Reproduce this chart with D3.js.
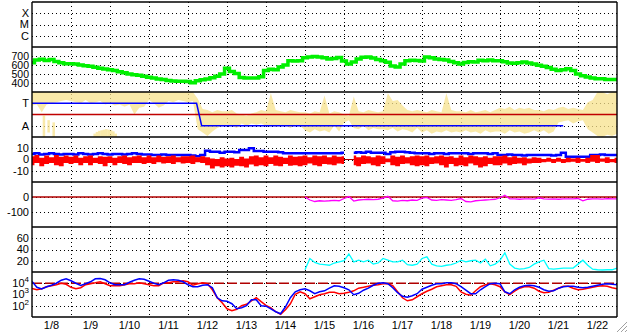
<!DOCTYPE html>
<html><head><meta charset="utf-8">
<script src="https://cdn.jsdelivr.net/npm/d3@7"></script>
<style>
body{margin:0;background:#fff;}
text{font-family:"Liberation Sans",Arial,Helvetica,sans-serif;font-size:11px;fill:#000;}
</style>
</head><body>
<svg id="c" width="628" height="334"></svg>
<script>
// ---------------- data ----------------
const dayLabels = ["1/8","1/9","1/10","1/11","1/12","1/13","1/14","1/15","1/16","1/17","1/18","1/19","1/20","1/21","1/22"];
const stepHours = 3;            // sampling step of the series below
const laterStartDay = 7;        // magenta & cyan series start on 1/15

const catLabels = ["X","M","C"];
const greenTicks = [400,500,600,700];
const modeTicks = [{v:2,label:"T"},{v:0,label:"A"}];
const p4Ticks = [10,0,-10];
const p5Ticks = [0,-100];
const p6Ticks = [20,40,60];
const logTicks = [{v:1e4,e:"4"},{v:1e3,e:"3"},{v:1e2,e:"2"}];

const green = [
 625,655,665,650,660,640,625,615,
 615,610,600,592,585,575,565,555,
 548,540,525,515,500,492,485,475,
 465,455,445,438,428,422,420,420,
 418,402,425,435,445,458,475,500,
 565,528,505,462,455,455,456,470,
 540,552,548,578,600,648,645,648,
 680,690,695,688,680,666,672,682,
 645,612,632,668,685,690,678,660,
 648,630,590,578,610,648,652,650,
 645,688,680,668,660,655,640,625,
 612,628,637,632,652,648,656,648,
 648,635,622,620,626,632,622,610,
 598,585,572,552,540,548,558,540,
 500,480,468,456,448,448,440,440,438];

const yellowLo = [
 1.8,1.9,1.2,1.9,2.0,2.1,2.2,2.3,
 2.2,2.1,2.0,2.3,2.0,2.1,2.2,1.9,
 2.0,1.8,1.9,1.7,1.9,1.0,1.6,1.7,
 2.3,2.0,1.6,1.8,2.2,2.1,2.3,2.2,
 2.1,2.2,-0.3,-0.6,-0.9,-0.5,-0.2,0.0,
 0.1,0.0,-0.2,0.2,0.0,0.2,0.1,0.2,
 0.0,0.1,-0.1,0.1,0.0,-0.2,0.1,0.0,
 -0.4,-0.6,-0.3,-0.5,-0.4,-0.6,0.0,-0.5,
 0.3,0.5,-0.2,-0.3,0.0,-0.4,-0.2,-0.3,
 -0.3,-0.4,-0.2,-0.5,-0.3,-0.4,-0.6,-0.2,
 -0.6,-0.4,-0.7,-0.5,-0.6,-0.4,-0.6,-0.5,
 -0.6,-0.4,-0.6,-0.5,-0.7,-0.4,-0.6,-0.5,
 -0.5,-0.7,-0.4,-0.6,-0.5,-0.7,-0.6,-0.4,
 -0.6,-0.4,-0.7,-0.5,0.3,0.4,0.5,0.2,
 0.4,0.5,-0.3,-0.6,-0.9,-1.0,-0.8,-0.9,-0.7];
const yellowHi = [
 3,3,3,3,3,3,3,3,
 3,3,3,3,3,3,3,3,
 3,3,3,3,3,3,3,3,
 3,3,3,3,3,3,3,3,
 3,3,2.4,1.5,1.4,1.2,1.4,1.3,
 1.3,1.4,1.1,1.0,0.9,1.1,1.2,1.4,
 1.3,2.9,1.4,1.3,1.2,1.4,1.3,1.2,
 1.2,1.1,1.3,1.2,2.7,1.1,1.3,1.2,
 1.0,0.9,2.6,1.3,1.2,1.4,1.3,1.2,
 1.3,2.9,2.2,2.3,1.8,1.4,1.3,1.4,
 1.3,1.2,1.4,1.3,1.2,2.9,1.4,1.3,
 1.3,1.2,1.4,1.2,1.3,1.4,1.2,1.4,
 1.6,1.5,1.7,1.4,1.6,1.5,1.6,1.4,
 1.4,1.3,1.5,1.4,1.6,1.7,1.5,1.6,
 1.5,1.4,2.1,2.3,3.0,3.0,2.8,3.0,3.0];
// isolated yellow streaks (day offset, low, high)
const yellowStreakDay = [0.30,0.42,0.55,1.60,1.66,1.72,1.78,1.84,1.90,1.96,2.02,2.08,2.14];
const yellowStreakLo  = [-1,-0.6,-1,-1,-1,-1,-1,-1,-1,-1,-1,-1,-1];
const yellowStreakHi  = [0.9,0.5,0.3,-0.7,-0.55,-0.45,-0.4,-0.35,-0.3,-0.35,-0.4,-0.5,-0.7];

const modeDay = [0,4.22,4.35,13.62];
const modeVal = [2,2,0,0];

const blue4 = [
 5,5.5,4.5,5,5.5,5,4.5,5,
 5,4.5,5.5,5,4.5,5,5.5,5,
 4.5,5,5,4.5,5,5.5,5,4.5,
 4.5,4,4,4.5,4,4,4,4,
 4,3.5,3,4,7.8,7,7,6,
 7,7,6.5,8.4,8.4,10,7.5,7.5,
 7,7,7,6.5,5.5,5.5,5.5,5.5,
 5.5,5.5,5.5,5.5,5.5,5.5,5.5,5.5,
 6,null,6,6.5,6,7,6,6,
 6,5,6.5,7,7,6.5,6,5.5,
 5.5,5.5,5,5.5,5.5,5,5.5,5.5,
 5.5,5.5,5,5.5,5.5,5.5,5,5.5,
 4,4,4.5,4,4,3.5,4,4,
 4,4,4,3.5,4,6,2.5,2.5,
 2.5,2.5,2.5,4,4,4.5,4,4,4];
const red4Lo = [
 -5,-3,-6,-4,-3,-5,-6,-3,
 -4,-3,-5,-3,-5,-3,-4,-6,
 -3,-5,-3,-4,-5,-3,-3,-4,
 -3,-4,-2.5,-3.5,-3,-4,-2.5,-3.5,
 -3,-4,-2.5,-3,-5,-8,-6,-7,
 -6,-7,-5.5,-6,-7,-4.5,-6,-5,
 -6,-4,-5.5,-6,-4,-5.5,-5,-6,
 -5,-3.5,-5,-6,-4,-4.5,-5,-3.5,
 -4,null,-5,-6,-4,-3.5,-5,-6,
 -4,-2.5,-5,-6,-4,-3.5,-5,-6,
 -5,-6,-4,-3.5,-5,-7,-4,-6,
 -5,-6,-3.5,-5,-7,-6,-4,-5,
 -5,-3.5,-5,-4,-3.5,-5,-3.5,-3,
 -3,-2.5,-2,-3,-2,-3,-2.5,-2,
 -3,-2,-3,-2,-3,-2,-3,-2.5,-3];
const red4Hi = [
 3,4,1.5,3.5,2,4,2.5,3.5,
 2.5,3.5,1.5,3,3.5,1.5,3,2.5,
 3,1.5,3,3.5,2,3,3.5,2,
 3.5,2,3.5,2.5,3,3.5,2,3,
 3,3.5,2,3,2,1,0.5,2,
 1,1.5,0.5,2.5,1,3,3.5,2,
 3.5,2,3.5,2.5,1.5,3.5,2.5,3,
 3.5,2,3.5,3,3.5,2,3.5,2.5,
 3,null,3.5,2,3.5,3,2,3.5,
 3,1,3.5,2.5,3.5,2,3,3.5,
 3,3.5,2,3,3.5,2.5,3,1.5,
 3.5,2,3.5,3,2,3,1.5,3,
 3,3.5,2,3,1.5,2,1,2,
 1.5,0.5,1.5,0.5,1.5,0.5,1.5,1,
 1.5,0.5,1.5,4,4,1,2,0.5,1.5];

const magenta = [
 0,-20,-30,-25,-27,-25,-22,-25,
 -10,3,-27,-20,-17,-15,-18,-15,
 -8,5,-25,-27,-22,-25,-20,-22,
 -8,-3,-20,-22,-18,-20,-22,-18,
 -10,-30,-33,-25,-22,-20,-18,-15,
 -5,12,-12,-13,-15,-13,-12,-14,
 -5,-12,-14,-13,-15,-12,-13,-12,
 -10,-25,-15,-13,-12,-14,-11,-13,-12];
const cyan = [
 4,24,17,14,13,12,16,18,
 20,32,18,21,18,21,14,16,
 24,21,18,18,21,13,12,14,
 24,27,14,11,10,12,13,16,
 21,18,20,21,16,23,11,14,
 21,34,14,7,5,6,8,14,
 18,21,6,5,6,7,7,7,
 14,21,12,5,4,3.6,4,4,7];

// log panel, stored as decimal exponents (value = 10^exponent)
const blueLogExp = [
 4.16,3.64,3.50,3.69,3.82,4.00,4.27,4.40,
 4.22,4.00,3.80,3.96,4.13,4.40,4.43,4.31,
 4.04,3.87,3.87,3.87,4.09,4.27,4.40,4.36,
 4.18,4.00,3.87,4.04,4.27,4.31,4.27,4.13,
 3.87,3.69,3.69,3.82,3.87,3.60,2.71,2.44,
 2.40,2.18,1.73,1.82,2.00,2.53,2.53,2.00,
 1.96,1.73,1.47,1.29,1.91,2.71,3.24,3.42,
 3.51,3.33,3.07,3.24,3.33,3.56,3.78,3.73,
 3.60,3.42,2.98,3.11,3.38,3.56,3.82,4.00,
 4.04,3.96,3.60,3.16,2.84,2.76,2.89,3.07,
 3.47,3.64,3.82,3.96,3.96,4.04,4.04,3.96,
 3.69,3.38,3.07,3.07,3.42,3.69,3.96,4.00,
 3.96,3.24,3.07,3.42,3.64,3.78,3.82,3.78,
 3.64,3.42,3.29,3.33,3.56,3.69,3.73,3.73,
 3.64,3.60,3.64,3.73,3.82,3.91,3.96,3.91,3.87];
const redLogExp = [
 3.54,3.42,3.51,3.69,3.78,3.87,4.00,3.91,
 3.64,3.51,3.60,3.87,3.96,4.04,4.13,3.96,
 3.78,3.78,3.78,3.87,3.96,3.96,4.04,3.96,
 3.87,3.78,3.78,4.04,4.04,4.13,4.13,4.22,
 4.13,3.82,3.96,4.04,3.96,3.42,2.71,2.27,
 1.73,1.56,1.69,2.00,2.13,2.44,2.71,2.36,
 2.04,1.82,1.47,1.24,1.64,2.18,3.02,3.24,
 3.07,2.62,2.80,2.98,3.07,3.20,3.20,3.07,
 3.11,3.20,3.33,3.56,3.64,3.73,3.82,3.87,
 3.96,3.96,3.78,3.24,2.71,2.44,2.53,2.80,
 3.07,3.29,3.47,3.69,3.78,3.87,3.87,3.73,
 3.24,3.02,2.93,3.33,3.69,3.87,3.96,3.87,
 3.69,3.24,2.98,3.29,3.56,3.69,3.69,3.56,
 3.29,3.16,3.20,3.38,3.56,3.73,3.73,3.56,
 3.42,3.47,3.56,3.64,3.73,3.78,3.73,3.60,3.51];

// ---------------- layout ----------------
const X0 = 32, X1 = 617;
const panelTop = [2,47,92,137,182,227,272];
const PH = 45;
const YB = panelTop[6] + PH;

const svg = d3.select("#c");
const t0 = Date.UTC(2000,0,8);
const dayDate = d => new Date(t0 + d*864e5);
const stepDate = (i, startDay=0) => new Date(t0 + (startDay*24 + i*stepHours)*3600e3);
const x = d3.scaleUtc().domain([dayDate(0), dayDate(dayLabels.length)]).range([X0, X1]);

const yCat = d3.scalePoint().domain(catLabels).range([panelTop[0], panelTop[0]+PH]).padding(1);
const yGreen = d3.scaleLinear().domain([300,800]).range([panelTop[1]+PH, panelTop[1]]);
const yMode = d3.scaleLinear().domain([-1,3]).range([panelTop[2]+PH, panelTop[2]]);
const y4 = d3.scaleLinear().domain([-20,20]).range([panelTop[3]+PH, panelTop[3]]);
const y5 = d3.scaleLinear().domain([-200,100]).range([panelTop[4]+PH, panelTop[4]]);
const y6 = d3.scaleLinear().domain([0,80]).range([panelTop[5]+PH, panelTop[5]]);
const y7 = d3.scaleLog().domain([10,1e5]).range([panelTop[6]+PH, panelTop[6]]);

const crisp = v => Math.round(v) + 0.5;
const defs = svg.append("defs");
panelTop.forEach((top,i) => {
  defs.append("clipPath").attr("id","clip"+i).append("rect")
    .attr("x",X0).attr("y",top).attr("width",X1-X0).attr("height",PH);
});

// ---------------- grid ----------------
const grid = svg.append("g").attr("stroke","#000").attr("stroke-width",1).attr("stroke-dasharray","1,3");
d3.range(1, dayLabels.length).forEach(d => {
  grid.append("line").attr("x1",crisp(x(dayDate(d)))).attr("x2",crisp(x(dayDate(d))))
    .attr("y1",panelTop[0]).attr("y2",YB);
});
function hgrid(yv){ grid.append("line").attr("x1",X0).attr("x2",X1).attr("y1",crisp(yv)).attr("y2",crisp(yv)); }
catLabels.forEach(c => hgrid(yCat(c)));
greenTicks.forEach(v => hgrid(yGreen(v)));
modeTicks.forEach(t => hgrid(yMode(t.v)));
p4Ticks.forEach(v => hgrid(y4(v)));
p5Ticks.forEach(v => hgrid(y5(v)));
p6Ticks.forEach(v => hgrid(y6(v)));
logTicks.forEach(t => hgrid(y7(t.v)));

// ---------------- data ----------------
const data = svg.append("g");
function pg(i){ return data.append("g").attr("clip-path","url(#clip"+i+")"); }

// panel 2: green
pg(1).append("path").datum(green)
  .attr("d", d3.line().curve(d3.curveStep).x((d,i)=>x(stepDate(i))).y(d=>yGreen(d)))
  .attr("fill","none").attr("stroke","#00f000").attr("stroke-width",3.5);

// panel 3: yellow scatter band, mode lines
const g3 = pg(2);
g3.append("path").datum(yellowLo.map((lo,i)=>({lo,hi:yellowHi[i],i})))
  .attr("d", d3.area().x(d=>x(stepDate(d.i))).y0(d=>yMode(d.lo)).y1(d=>yMode(d.hi)))
  .attr("fill","#f7e28c").attr("fill-opacity",0.75);
yellowStreakDay.forEach((d,i) => {
  g3.append("rect").attr("x", x(dayDate(d))-1).attr("width",2.5)
    .attr("y", yMode(yellowStreakHi[i])).attr("height", yMode(yellowStreakLo[i]) - yMode(yellowStreakHi[i]))
    .attr("fill","#f7e28c").attr("fill-opacity",0.75);
});
g3.append("line").attr("x1",X0).attr("x2",X1).attr("y1",yMode(1)).attr("y2",yMode(1))
  .attr("stroke","#c00000").attr("stroke-width",1.5);
g3.append("path").datum(modeDay.map((d,i)=>({d,v:modeVal[i]})))
  .attr("d", d3.line().x(p=>x(dayDate(p.d))).y(p=>yMode(p.v)))
  .attr("fill","none").attr("stroke","#0000ff").attr("stroke-width",1.5);

// panel 4
const g4 = pg(3);
g4.append("line").attr("x1",X0).attr("x2",X1).attr("y1",y4(0)).attr("y2",y4(0))
  .attr("stroke","#b00000").attr("stroke-width",1);
g4.append("path").datum(blue4)
  .attr("d", d3.line().curve(d3.curveStep).defined(d=>d!==null).x((d,i)=>x(stepDate(i))).y(d=>y4(d)))
  .attr("fill","none").attr("stroke","#0000ff").attr("stroke-width",2.5);
g4.append("path").datum(red4Lo.map((lo,i)=>({lo,hi:red4Hi[i],i})))
  .attr("d", d3.area().curve(d3.curveStep).defined(d=>d.lo!==null).x(d=>x(stepDate(d.i))).y0(d=>y4(d.lo)).y1(d=>y4(d.hi)))
  .attr("fill","#ff0000");

// panel 5
const g5 = pg(4);
g5.append("line").attr("x1",X0).attr("x2",X1).attr("y1",y5(0)).attr("y2",y5(0))
  .attr("stroke","#b00000").attr("stroke-width",1.5);
g5.append("path").datum(magenta)
  .attr("d", d3.line().x((d,i)=>x(stepDate(i,laterStartDay))).y(d=>y5(d)))
  .attr("fill","none").attr("stroke","#ff00ff").attr("stroke-width",1.3);

// panel 6
pg(5).append("path").datum(cyan)
  .attr("d", d3.line().x((d,i)=>x(stepDate(i,laterStartDay))).y(d=>y6(d)))
  .attr("fill","none").attr("stroke","#00ffff").attr("stroke-width",1.3);

// panel 7
const g7 = pg(6);
g7.append("line").attr("x1",X0).attr("x2",X1).attr("y1",y7(1e4)).attr("y2",y7(1e4))
  .attr("stroke","#b00000").attr("stroke-width",1.5).attr("stroke-dasharray","10,3");
const logLine = d3.line().x((d,i)=>x(stepDate(i))).y(d=>y7(Math.pow(10,d)));
g7.append("path").datum(redLogExp).attr("d",logLine)
  .attr("fill","none").attr("stroke","#ff0000").attr("stroke-width",1.5);
g7.append("path").datum(blueLogExp).attr("d",logLine)
  .attr("fill","none").attr("stroke","#0000ff").attr("stroke-width",1.5);

// ---------------- frame ----------------
const frame = svg.append("g").attr("stroke","#000").attr("stroke-width",1.4);
panelTop.concat([YB]).forEach(yv => frame.append("line").attr("x1",X0).attr("x2",X1).attr("y1",yv).attr("y2",yv));
[X0,X1].forEach(xv => frame.append("line").attr("x1",xv).attr("x2",xv).attr("y1",panelTop[0]).attr("y2",YB));

// ---------------- labels ----------------
const lab = svg.append("g");
function ylab(yv, txt, fs){
  const t = lab.append("text").attr("x",29).attr("y",yv).attr("dy","0.36em").attr("text-anchor","end").text(txt);
  if (fs) t.style("font-size", fs);
}
catLabels.forEach(c => ylab(yCat(c), c));
greenTicks.forEach(v => ylab(yGreen(v), v, "10.5px"));
modeTicks.forEach(t => ylab(yMode(t.v), t.label));
p4Ticks.forEach(v => ylab(y4(v), v));
p5Ticks.forEach(v => ylab(y5(v), v));
p6Ticks.forEach(v => ylab(y6(v), v));
logTicks.forEach(t => {
  const tx = lab.append("text").attr("x",29).attr("y",y7(t.v)).attr("dy","0.36em").attr("text-anchor","end");
  tx.append("tspan").text("10");
  tx.append("tspan").attr("dy",-5).style("font-size","8px").text(t.e);
});
dayLabels.forEach((l,d) => {
  lab.append("text").attr("x", x(dayDate(d+0.5))).attr("y",329).attr("text-anchor","middle").text(l);
});

// window resize grip
const grip = svg.append("g").attr("stroke","#a0a0a0").attr("stroke-width",1);
[0,4,8].forEach(k => grip.append("line").attr("x1",627).attr("y1",322+k).attr("x2",617+k).attr("y2",332));
</script>
</body></html>
